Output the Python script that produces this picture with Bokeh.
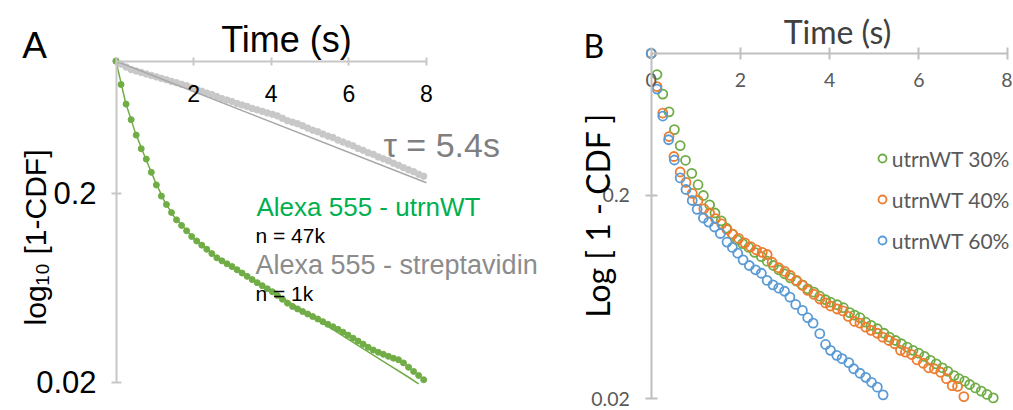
import math
from bokeh.plotting import figure
from bokeh.layouts import row
from bokeh.models import Range1d, FixedTicker, Label, Legend, LegendItem
from bokeh.embed import file_html
from bokeh.resources import INLINE

# ---------------- Panel A data ----------------
a_time = [0.00, 0.13, 0.26, 0.39, 0.52, 0.65, 0.78, 0.91, 1.04, 1.17, 1.30, 1.43, 1.56, 1.69, 1.82,
          1.95, 2.08, 2.21, 2.34, 2.47, 2.60, 2.73, 2.86, 2.99, 3.12, 3.25, 3.38, 3.51, 3.64, 3.77,
          3.90, 4.03, 4.16, 4.29, 4.42, 4.55, 4.68, 4.81, 4.94, 5.07, 5.20, 5.33, 5.46, 5.59, 5.72,
          5.85, 5.98, 6.11, 6.24, 6.37, 6.50, 6.63, 6.76, 6.89, 7.02, 7.15, 7.28, 7.41, 7.54, 7.67,
          7.80, 7.93]
a_utrn = [1.000, 0.752, 0.592, 0.490, 0.406, 0.344, 0.303, 0.258, 0.221, 0.193, 0.1743, 0.158,
          0.1445, 0.135, 0.1265, 0.118, 0.1117, 0.1062, 0.101, 0.0958, 0.0910, 0.0877, 0.0846,
          0.0818, 0.0787, 0.0756, 0.0726, 0.0698, 0.0672, 0.0648, 0.0624, 0.0602, 0.0575, 0.0549,
          0.0524, 0.0503, 0.0488, 0.0473, 0.0459, 0.0445, 0.0432, 0.0418, 0.0405, 0.0393, 0.0381,
          0.0368, 0.0355, 0.0342, 0.0330, 0.0318, 0.0306, 0.0296, 0.0288, 0.0281, 0.0274, 0.0268,
          0.0263, 0.0253, 0.0240, 0.0228, 0.0217, 0.0206]
a_strep = [1.000, 0.964, 0.930, 0.902, 0.886, 0.871, 0.855, 0.840, 0.825, 0.810, 0.796, 0.781,
           0.768, 0.754, 0.741, 0.723, 0.706, 0.693, 0.677, 0.665, 0.649, 0.633, 0.622, 0.611,
           0.596, 0.586, 0.575, 0.562, 0.552, 0.542, 0.532, 0.523, 0.513, 0.498, 0.483, 0.475,
           0.466, 0.455, 0.442, 0.431, 0.423, 0.411, 0.401, 0.394, 0.382, 0.373, 0.364, 0.356,
           0.345, 0.337, 0.327, 0.321, 0.311, 0.304, 0.297, 0.288, 0.281, 0.273, 0.266, 0.260,
           0.252, 0.246]
a_fit_time = [0.0, 0.25, 0.5, 0.75, 1.0, 1.25, 1.5, 2.0, 2.5, 3.0, 3.5, 4.0, 4.5, 5.0, 5.5, 6.0,
              6.5, 7.0, 7.5, 7.8]
a_fit_utrn = [1.0, 0.600, 0.417, 0.310, 0.233, 0.181, 0.150, 0.115, 0.0948, 0.0817, 0.0700,
              0.0607, 0.0525, 0.0452, 0.0390, 0.0336, 0.0289, 0.0249, 0.0215, 0.0196]
a_fit_strep_time = [0.0, 8.0]
a_fit_strep = [1.0, 0.227]

# ---------------- Panel B data ----------------
b30_time = [0, 0.13, 0.26, 0.40, 0.52, 0.65, 0.77, 0.91, 1.05, 1.17, 1.31, 1.43, 1.57, 1.69, 1.82,
            1.93, 2.05, 2.19, 2.32, 2.47, 2.60, 2.74, 2.86, 2.99, 3.12, 3.26, 3.39, 3.51, 3.65,
            3.78, 3.91, 4.02, 4.17, 4.31, 4.45, 4.56, 4.68, 4.81, 4.93, 5.07, 5.22, 5.34, 5.48,
            5.61, 5.74, 5.87, 6.00, 6.13, 6.26, 6.39, 6.53, 6.65, 6.79, 6.90, 7.03, 7.14, 7.27,
            7.40, 7.53, 7.67]
b30 = [1.0, 0.787, 0.631, 0.516, 0.422, 0.352, 0.298, 0.257, 0.226, 0.200, 0.180, 0.164, 0.150,
       0.138, 0.129, 0.121, 0.116, 0.111, 0.105, 0.100, 0.095, 0.0905, 0.0862, 0.0824, 0.0787,
       0.0758, 0.0727, 0.0695, 0.0669, 0.0639, 0.0614, 0.0597, 0.0580, 0.0561, 0.0531, 0.0516,
       0.0501, 0.0476, 0.0459, 0.0442, 0.0420, 0.0402, 0.0387, 0.0373, 0.0359, 0.0346, 0.0335,
       0.0323, 0.0309, 0.0297, 0.0284, 0.0273, 0.0260, 0.0251, 0.0244, 0.0235, 0.0226, 0.0218,
       0.0210, 0.0202]
b40_time = [0, 0.13, 0.26, 0.40, 0.51, 0.65, 0.78, 0.92, 1.05, 1.18, 1.31, 1.44, 1.58, 1.70, 1.83,
            1.96, 2.10, 2.23, 2.36, 2.49, 2.60, 2.71, 2.86, 3.00, 3.12, 3.26, 3.39, 3.51, 3.65,
            3.78, 3.91, 4.02, 4.17, 4.30, 4.42, 4.56, 4.68, 4.81, 4.93, 5.07, 5.19, 5.33, 5.46,
            5.59, 5.70, 5.84, 5.96, 6.10, 6.22, 6.35, 6.49, 6.62, 6.75, 6.87, 7.01]
b40 = [1.0, 0.687, 0.509, 0.390, 0.311, 0.261, 0.232, 0.205, 0.189, 0.172, 0.164, 0.154, 0.145,
       0.136, 0.129, 0.123, 0.117, 0.112, 0.108, 0.105, 0.1025, 0.0939, 0.0882, 0.0846, 0.0808,
       0.0764, 0.0722, 0.0682, 0.0652, 0.0619, 0.0592, 0.0572, 0.0553, 0.0541, 0.0508, 0.0480,
       0.0471, 0.0450, 0.0434, 0.0420, 0.0402, 0.0387, 0.0373, 0.0346, 0.0339, 0.0330, 0.0311,
       0.0299, 0.0284, 0.0281, 0.0270, 0.0251, 0.0232, 0.0230, 0.0205]
b60_time = [0, 0.13, 0.26, 0.39, 0.52, 0.65, 0.78, 0.92, 1.03, 1.17, 1.29, 1.42, 1.55, 1.70, 1.82,
            1.94, 2.06, 2.20, 2.34, 2.47, 2.60, 2.73, 2.86, 2.99, 3.11, 3.24, 3.39, 3.51, 3.63,
            3.78, 3.91, 4.02, 4.16, 4.28, 4.43, 4.54, 4.68, 4.81, 4.94, 5.07, 5.20]
b60 = [1.0, 0.668, 0.492, 0.376, 0.299, 0.244, 0.214, 0.189, 0.171, 0.155, 0.148, 0.140, 0.130,
       0.118, 0.111, 0.104, 0.0965, 0.0905, 0.0862, 0.0829, 0.0764, 0.0727, 0.0700, 0.0676,
       0.0632, 0.0582, 0.0544, 0.0501, 0.0471, 0.0418, 0.0370, 0.0346, 0.0327, 0.0315, 0.0301,
       0.0281, 0.0267, 0.0255, 0.0241, 0.0228, 0.0209]

x_ticks = [0, 2, 4, 6, 8]
y_ticks = [0.02, 0.2]
y_tick_text = ["0.02", "0.2"]
legend_labels = ["utrnWT 30%", "utrnWT 40%", "utrnWT 60%"]

GREEN, ORANGE, BLUE = "#70ad47", "#ed7d31", "#5b9bd5"
FA = "Liberation Sans"
FB = "Lato"


def style_axes(p, axis_color, tick_x, tick_y, xfont, xsize, xcolor, xstand):
    xa = p.xaxis[0]
    xa.fixed_location = 1
    xa.bounds = (0, 8)
    xa.ticker = FixedTicker(ticks=x_ticks)
    xa.axis_line_color = axis_color
    xa.axis_line_width = 2
    xa.major_tick_line_color = axis_color
    xa.major_tick_line_width = 2
    xa.major_tick_in = tick_x
    xa.major_tick_out = tick_x
    xa.minor_tick_line_color = None
    xa.major_label_text_font = xfont
    xa.major_label_text_font_size = xsize
    xa.major_label_text_color = xcolor
    xa.major_label_standoff = xstand

    ya = p.yaxis[0]
    ya.fixed_location = 0
    ya.bounds = (0.02, 1)
    ya.ticker = FixedTicker(ticks=y_ticks)
    ya.major_label_overrides = {t: "" for t in y_ticks}
    ya.major_label_standoff = 0
    ya.axis_line_color = axis_color
    ya.axis_line_width = 2
    ya.major_tick_line_color = axis_color
    ya.major_tick_line_width = 2
    ya.major_tick_in = tick_y
    ya.major_tick_out = tick_y
    ya.minor_tick_line_color = None

    p.grid.visible = False
    p.outline_line_color = None
    p.background_fill_color = "white"
    p.border_fill_color = "white"


def lab(p, x, y, text, font, size, color, align="left", angle=0.0, baseline="alphabetic"):
    p.add_layout(Label(x=x, y=y, text=text, text_font=font, text_font_size=size,
                       text_color=color, text_align=align, text_baseline=baseline,
                       angle=angle))


# ---------------- Panel A ----------------
pA = figure(width=555, height=409, x_range=Range1d(-2.8222, 11.3273),
            y_range=Range1d(0.014339, 1.8979), y_axis_type="log", x_axis_location="above",
            output_backend="svg", toolbar_location=None,
            min_border_left=6, min_border_right=0, min_border_top=8, min_border_bottom=0)
style_axes(pA, "#c8c8c8", 4, 5, FA, "23px", "black", -45)
pA.xaxis[0].major_label_overrides = {0: ""}

pA.scatter(a_time, a_strep, size=6.5, color="#c8c8c8")
pA.line(a_fit_strep_time, a_fit_strep, line_color="#a6a6a6", line_width=1.5)
pA.scatter(a_time, a_utrn, size=6, color=GREEN)
pA.line(a_fit_time, a_fit_utrn, line_color=GREEN, line_width=1.5)

for t, txt in zip(y_ticks, y_tick_text):
    lab(pA, -0.5, t, txt, FA, "31px", "black", "right", baseline="middle")
lab(pA, -2.418, 1.209, "A", FA, "37px", "black")
lab(pA, 4.394, 1.2965, "Time (s)", FA, "36px", "black", "center")
lab(pA, -2.075, 0.1166, "log\u2081\u2080 [1-CDF]", FA, "30px", "black", "center", math.pi / 2)
lab(pA, 6.894, 0.3576, "\u03c4 = 5.4s", FA, "34px", "#7f7f7f")
lab(pA, 3.621, 0.1687, "Alexa 555 - utrnWT", FA, "26px", "#00b050")
lab(pA, 3.595, 0.1195, "n = 47k", FA, "21px", "black")
lab(pA, 3.595, 0.0829, "Alexa 555 - streptavidin", FA, "27px", "#8c8c8c")
lab(pA, 3.595, 0.0587, "n = 1k", FA, "21px", "black")

# ---------------- Panel B ----------------
pB = figure(width=457, height=409, x_range=Range1d(-2.0112, 8.1009),
            y_range=Range1d(0.017709, 1.6632), y_axis_type="log", x_axis_location="above",
            output_backend="svg", toolbar_location=None,
            min_border_left=6, min_border_right=0, min_border_top=8, min_border_bottom=0)
style_axes(pB, "#bfbfbf", 6, 6, FB, "19.5px", "#595959", -40)

r30 = pB.scatter(b30_time, b30, size=9, fill_color=None, line_color=GREEN, line_width=1.8)
r40 = pB.scatter(b40_time, b40, size=9, fill_color=None, line_color=ORANGE, line_width=1.8)
r60 = pB.scatter(b60_time, b60, size=9, fill_color=None, line_color=BLUE, line_width=1.8)

legend = Legend(items=[LegendItem(label=legend_labels[0], renderers=[r30]),
                       LegendItem(label=legend_labels[1], renderers=[r40]),
                       LegendItem(label=legend_labels[2], renderers=[r60])],
                location=(310.7, 156.3), orientation="vertical",
                glyph_width=20, glyph_height=24, label_height=20, spacing=16,
                label_standoff=0, padding=0, margin=0,
                border_line_color=None, background_fill_alpha=0,
                label_text_font=FB, label_text_font_size="21px", label_text_color="#595959")
pB.add_layout(legend)

for t, txt in zip(y_ticks, y_tick_text):
    lab(pB, -0.48, t, txt, FB, "19.5px", "#595959", "right", baseline="middle")
lab(pB, -1.518, 1.0935, "B", FB, "32px", "black")
lab(pB, 4.177, 1.2859, "Time (s)", FB, "32px", "#404040", "center")
lab(pB, -1.204, 0.1595, "Log [ 1 - CDF ]", FB, "32px", "black", "center", math.pi / 2)

layout = row(pA, pB)
open("out.html", "w").write(file_html(layout, INLINE))
